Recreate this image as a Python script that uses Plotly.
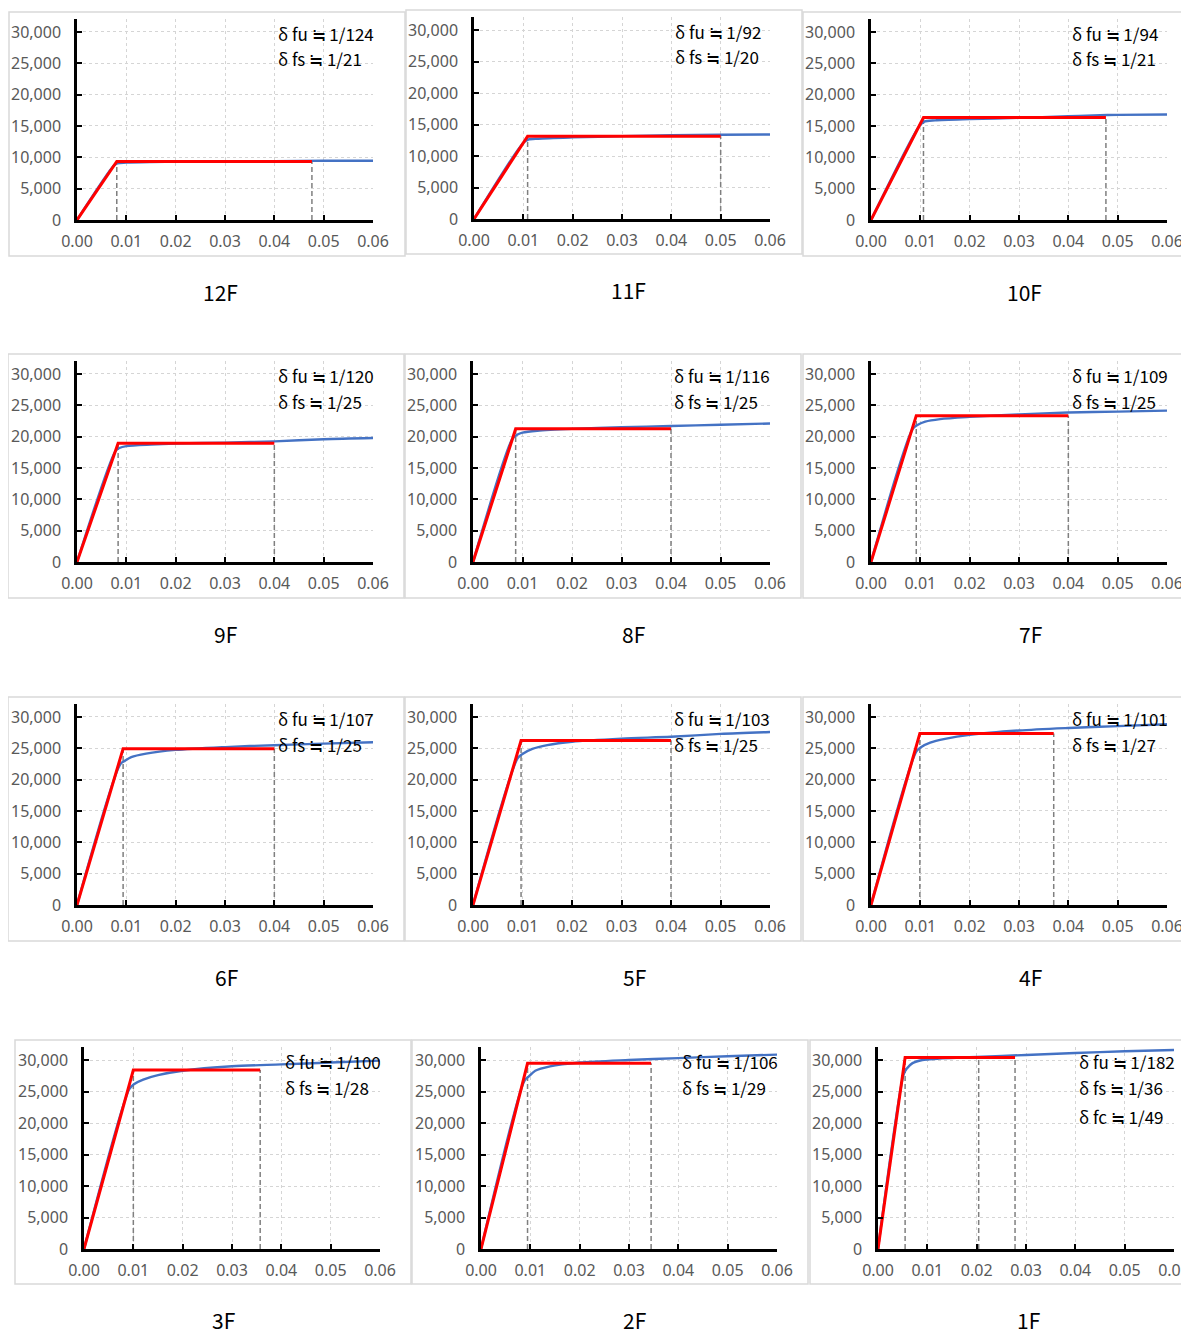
import plotly.graph_objects as go

# page pixel size of the reference and the default 8px body margin of the page
PAGE_W, PAGE_H = 1189, 1334
OFF = 8
W, H = PAGE_W - OFF, PAGE_H - OFF

floors = ["12F", "11F", "10F", "9F", "8F", "7F", "6F", "5F", "4F", "3F", "2F", "1F"]
fu_den = [124, 92, 94, 120, 116, 109, 107, 103, 101, 100, 106, 182]
fs_den = [21, 20, 21, 25, 25, 25, 25, 25, 27, 28, 29, 36]
fc_den = [None] * 11 + [49]
Qu = [9350, 13150, 16350, 18950, 21250, 23350, 24950, 26250, 27350, 28400, 29470, 30380]

blue_x = [
    [0, 0.0075, 0.0082, 0.010, 0.015, 0.020, 0.030, 0.040, 0.050, 0.060],
    [0, 0.0100, 0.0110, 0.013, 0.020, 0.030, 0.040, 0.050, 0.060],
    [0, 0.0098, 0.0108, 0.013, 0.020, 0.030, 0.040, 0.045, 0.050, 0.060],
    [0, 0.0078, 0.0086, 0.010, 0.015, 0.020, 0.030, 0.040, 0.050, 0.060],
    [0, 0.0080, 0.0090, 0.010, 0.013, 0.020, 0.030, 0.040, 0.050, 0.060],
    [0, 0.0085, 0.0095, 0.011, 0.014, 0.020, 0.030, 0.040, 0.050, 0.060],
    [0, 0.0088, 0.0097, 0.011, 0.014, 0.020, 0.030, 0.040, 0.050, 0.060],
    [0, 0.0090, 0.0100, 0.012, 0.015, 0.020, 0.030, 0.040, 0.050, 0.060],
    [0, 0.0092, 0.0102, 0.012, 0.015, 0.020, 0.030, 0.040, 0.050, 0.060],
    [0, 0.0092, 0.0102, 0.012, 0.015, 0.020, 0.030, 0.040, 0.050, 0.060],
    [0, 0.0088, 0.0097, 0.011, 0.014, 0.020, 0.030, 0.040, 0.050, 0.060],
    [0, 0.0052, 0.0058, 0.007, 0.009, 0.012, 0.020, 0.030, 0.040, 0.050, 0.060],
]
blue_y = [
    [0, 8700, 9050, 9150, 9250, 9300, 9350, 9400, 9450, 9450],
    [0, 12100, 12600, 12750, 12950, 13150, 13300, 13380, 13420],
    [0, 15000, 15700, 15900, 16100, 16300, 16550, 16700, 16780, 16840],
    [0, 17700, 18200, 18500, 18750, 18900, 19050, 19250, 19600, 19790],
    [0, 19700, 20350, 20650, 20950, 21250, 21500, 21700, 21900, 22100],
    [0, 21300, 21900, 22400, 22800, 23150, 23550, 23850, 24000, 24150],
    [0, 22500, 23000, 23600, 24150, 24750, 25200, 25500, 25750, 25960],
    [0, 23400, 24100, 24900, 25500, 26050, 26550, 26850, 27300, 27600],
    [0, 24500, 25200, 25900, 26500, 27150, 27850, 28250, 28550, 28840],
    [0, 25400, 26200, 26900, 27600, 28300, 29000, 29300, 29600, 29900],
    [0, 26700, 27400, 28300, 29000, 29600, 30000, 30300, 30600, 30850],
    [0, 27700, 28600, 29500, 30000, 30200, 30500, 30800, 31100, 31400, 31580],
]

x_ticks = [0.0, 0.01, 0.02, 0.03, 0.04, 0.05, 0.06]
x_ticktext = ["0.00", "0.01", "0.02", "0.03", "0.04", "0.05", "0.06"]
y_ticks = [0, 5000, 10000, 15000, 20000, 25000, 30000]
y_ticktext = ["0", "5,000", "10,000", "15,000", "20,000", "25,000", "30,000"]

# plot areas in page pixels: (x at 0.00, x at 0.06, y at 0, y at 30000)
areas = [
    (77, 373, 220, 32), (474, 770, 219, 30), (871, 1167, 220, 32),
    (77, 373, 562, 374), (473, 770, 562, 374), (871, 1167, 562, 374),
    (77, 373, 905, 717), (473, 770, 905, 717), (871, 1167, 905, 717),
    (84, 380, 1249, 1060), (481, 777, 1249, 1060), (878, 1174, 1249, 1060),
]
frames = [
    (9, 12, 405, 256), (406, 10, 802, 254), (803, 12, 1189, 256),
    (8, 354, 404, 598), (405, 354, 801, 598), (803, 354, 1189, 598),
    (8, 697, 404, 941), (405, 697, 801, 941), (803, 697, 1189, 941),
    (15, 1040, 411, 1284), (412, 1040, 808, 1284), (810, 1040, 1189, 1284),
]
label_cx = [220, 629, 1024, 225, 633, 1030, 226, 634, 1030, 223, 634, 1028]

YMAX = 32000
fig = go.Figure()
layout = dict(
    width=W, height=H, autosize=False,
    margin=dict(l=0, r=0, t=0, b=0, pad=0),
    paper_bgcolor="white", plot_bgcolor="white",
    showlegend=False,
    shapes=[], annotations=[],
)

def px(x):
    return (x - OFF) / W

def py(y):
    return 1 - (y - OFF) / H

for i, fl in enumerate(floors):
    n = i + 1
    xa = "x" if n == 1 else f"x{n}"
    ya = "y" if n == 1 else f"y{n}"
    x0, x6, y0, y30 = areas[i]
    ytop = y0 - (y0 - y30) * YMAX / 30000
    layout[f"xaxis{'' if n == 1 else n}"] = dict(
        domain=[px(x0), min(1.0, px(x6))], anchor=ya, range=[0, 0.06],
        tickvals=x_ticks, ticktext=x_ticktext, automargin=False,
        showline=True, linecolor="black", linewidth=2.5,
        ticks="inside", ticklen=5, tickwidth=2, tickcolor="black",
        showgrid=True, gridcolor="#d5d5d5", griddash="dot", gridwidth=1,
        zeroline=False, ticklabelstandoff=5, ticklabeloverflow="allow",
        tickfont=dict(family="Noto Sans", size=16, color="#595959"),
    )
    layout[f"yaxis{'' if n == 1 else n}"] = dict(
        domain=[py(y0), py(ytop)], anchor=xa, range=[0, YMAX],
        tickvals=y_ticks, ticktext=y_ticktext, automargin=False,
        showline=True, linecolor="black", linewidth=2.5,
        ticks="inside", ticklen=5, tickwidth=2, tickcolor="black",
        showgrid=True, gridcolor="#d5d5d5", griddash="dot", gridwidth=1,
        zeroline=False, ticklabelstandoff=10, ticklabeloverflow="allow",
        tickfont=dict(family="Noto Sans", size=16, color="#595959"),
    )
    fx0, fy0, fx1, fy1 = frames[i]
    layout["shapes"].append(dict(
        type="rect", xref="paper", yref="paper",
        x0=px(fx0), x1=px(fx1), y0=py(fy1), y1=py(fy0),
        line=dict(color="#d9d9d9", width=1.5), layer="below",
    ))

    dfu = 1 / fu_den[i]
    dfs = 1 / fs_den[i]
    dash_x = [dfu, dfs] + ([1 / fc_den[i]] if fc_den[i] else [])
    for dx in dash_x:
        fig.add_trace(go.Scatter(
            x=[dx, dx], y=[0, Qu[i]], mode="lines", xaxis=xa, yaxis=ya,
            line=dict(color="#7f7f7f", width=1.5, dash="5px,3px"), hoverinfo="skip",
        ))
    fig.add_trace(go.Scatter(
        x=blue_x[i], y=blue_y[i], mode="lines", xaxis=xa, yaxis=ya,
        line=dict(color="#4472C4", width=2.4, shape="spline", smoothing=0.8),
    ))
    fig.add_trace(go.Scatter(
        x=[0, dfu, dfs], y=[0, Qu[i], Qu[i]], mode="lines", xaxis=xa, yaxis=ya,
        line=dict(color="#FF0000", width=3),
    ))

    # texts
    lines = [f"δ fu ≒ 1/{fu_den[i]}", f"δ fs ≒ 1/{fs_den[i]}"]
    if fc_den[i]:
        lines.append(f"δ fc ≒ 1/{fc_den[i]}")
    offs = [1, 27, 56]
    for k, t in enumerate(lines):
        layout["annotations"].append(dict(
            text=t, xref="paper", yref="paper",
            x=px(x0 + 199), y=py(y30 + offs[k]),
            xanchor="left", yanchor="middle", showarrow=False,
            font=dict(family="Noto Sans CJK JP", size=17, color="black"),
        ))
    layout["annotations"].append(dict(
        text=fl, xref="paper", yref="paper",
        x=px(label_cx[i]), y=py(fy1 + 36),
        xanchor="center", yanchor="middle", showarrow=False,
        font=dict(family="Noto Sans CJK JP", size=21, color="black"),
    ))

fig.update_layout(**layout)
fig.write_html("out.html")
